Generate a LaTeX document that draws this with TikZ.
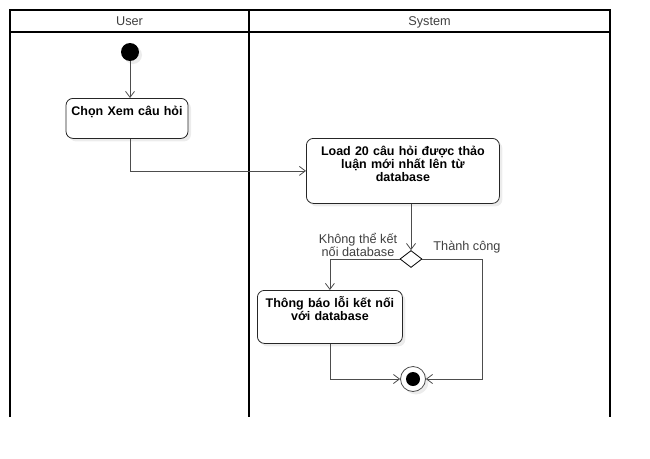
\documentclass[tikz,border=0pt]{standalone}
\usepackage{fontspec}
\setmainfont{Liberation Sans}
\usetikzlibrary{shapes.geometric}
\usetikzlibrary{shadows}
\usetikzlibrary{arrows.meta}
\definecolor{linegray}{RGB}{77,77,77}
\definecolor{textgray}{RGB}{64,64,64}

\begin{document}
\begin{tikzpicture}[x=1pt,y=-1pt,>={Straight Barb[length=6pt,width=9pt]},
    lane/.style={line width=1.8pt},
    act/.style={draw=black!85,line width=0.8pt,rounded corners=7pt,fill=white,
        drop shadow={shadow xshift=3pt,shadow yshift=-3pt,opacity=.15},
        font=\fontsize{12.5}{13}\selectfont\bfseries,align=center,
        inner xsep=3pt,inner ysep=4pt,text height=13.5pt},
    flow/.style={->,draw=linegray,line width=0.8pt},
    guard/.style={text=textgray,font=\fontsize{12.7}{12.5}\selectfont,align=center,inner sep=0pt}]
    \useasboundingbox (0,0) rectangle (650,458);
    % swimlanes
    \draw[lane] (10,417) -- (10,10) -- (610,10) -- (610,417);
    \draw[lane] (10,32) -- (610,32);
    \draw[line width=2.6pt] (249,10) -- (249,417);
    \node[guard,anchor=base] (user) at (129.5,25.5) {User};
    \node[guard,anchor=base] (system) at (429.5,25.5) {System};
    % activities
    \node[circle,fill=black,minimum size=18pt,inner sep=0pt,
        drop shadow={shadow xshift=3pt,shadow yshift=-3pt,opacity=.15}] (start) at (130,52) {};
    \node[act,text width=116pt,text depth=18.5pt,anchor=north] (chon) at (127,98) {Chọn Xem câu hỏi};
    \node[act,text width=187pt,text depth=43.5pt,anchor=north west] (load) at (306,138)
        {Load 20 câu hỏi được thảo\\luận mới nhất lên từ\\database};
    \node[diamond,draw=black,fill=white,line width=0.8pt,minimum width=22pt,
        minimum height=17pt,inner sep=0pt] (dec) at (411,259) {};
    \node[act,text width=139pt,text depth=31.5pt,anchor=north west] (loi) at (257,290)
        {Thông báo lỗi kết nối\\với database};
    \node[circle,draw=linegray,fill=white,minimum size=25pt,inner sep=0pt,line width=0.8pt,
        drop shadow={shadow xshift=3pt,shadow yshift=-3pt,opacity=.15}] (final) at (413,379) {};
    \fill (final) circle (7pt);
    \coordinate (okturn) at (482,259);
    % flows
    \draw[flow] (start) -- (start |- chon.north);
    \draw[flow] (start |- chon.south) |- (load.west);
    \draw[flow] (dec |- load.south) -- (dec.north);
    \draw[flow] (dec.west) -| (loi.north);
    \draw[flow] (dec.east) -- (okturn) |- (final.east);
    \draw[flow] (loi.south) |- (final.west);
    \node[guard] (fail) at (358,245) {Không thể kết\\nối database};
    \node[guard] (ok) at (467,247) {Thành công};
\end{tikzpicture}
\end{document}
